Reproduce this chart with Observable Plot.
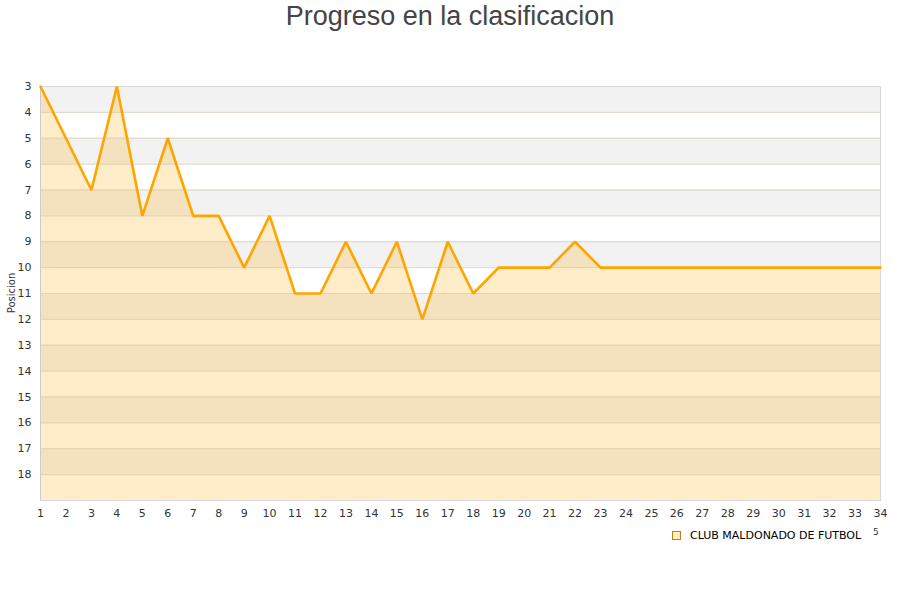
<!DOCTYPE html>
<html>
<head>
<meta charset="utf-8">
<script src="https://cdn.jsdelivr.net/npm/d3@7"></script>
<script src="https://cdn.jsdelivr.net/npm/@observablehq/plot@0.6"></script>
<style>
  html, body { margin: 0; padding: 0; background: #fff; width: 900px; height: 600px; overflow: hidden; }
  #title { position: absolute; left: 0; top: 0; width: 900px; text-align: center; font-family: "Liberation Sans", Arial, sans-serif; font-size: 27px; color: #444; line-height: 32px; }
  #chart { position: absolute; left: 0; top: 40px; }
  #ylabel { position: absolute; left: 11px; top: 293px; transform: translate(-50%, -50%) rotate(-90deg); font-family: "DejaVu Sans", Verdana, sans-serif; font-size: 10px; color: #333; white-space: nowrap; }
  #legend { position: absolute; left: 672px; top: 529px; font-family: "DejaVu Sans", Verdana, sans-serif; font-size: 11px; color: #000; display: flex; align-items: center; }
  #legend .sw { width: 7px; height: 7px; border: 1px solid #b8860b; background: #ffedcc; margin-right: 9px; }
  #extra { position: absolute; left: 873px; top: 527px; font-family: "DejaVu Sans", Verdana, sans-serif; font-size: 9px; color: #333; }
</style>
</head>
<body>
<div id="title">Progreso en la clasificacion</div>
<div id="chart"></div>
<div id="ylabel">Posicion</div>
<div id="legend"><div class="sw"></div><span>CLUB MALDONADO DE FUTBOL</span></div>
<div id="extra">5</div>
<script>
const rounds = d3.range(1, 35);
const positions = [3,5,7,3,8,5,8,8,10,8,11,11,9,11,9,12,9,11,10,10,10,9,10,10,10,10,10,10,10,10,10,10,10,10];
const yTicks = d3.range(3, 19);
const stripeStarts = [3,5,7,9,11,13,15,17];
const team = "CLUB MALDONADO DE FUTBOL";

const data = rounds.map((r, i) => ({round: r, pos: positions[i]}));
const stripes = stripeStarts.map(s => ({y1: s, y2: s + 1}));

const chart = Plot.plot({
  width: 900,
  height: 490,
  marginTop: 46,
  marginBottom: 30,
  marginLeft: 40,
  marginRight: 20,
  style: { fontFamily: "DejaVu Sans, Verdana, sans-serif", fontSize: "11px", color: "#333", background: "transparent" },
  x: { domain: [1, 34], ticks: rounds, tickFormat: d => String(d), tickSize: 0, tickPadding: 9, label: null },
  y: { domain: [3, 19], reverse: true, ticks: yTicks, tickSize: 0, tickPadding: 9, label: null },
  marks: [
    Plot.rect(stripes, { x1: 1, x2: 34, y1: "y1", y2: "y2", fill: "#f2f2f2" }),
    Plot.ruleY(d3.range(3, 20), { stroke: "#dedede", strokeWidth: 1 }),
    Plot.areaY(data, { x: "round", y1: 19, y2: "pos", fill: "#ffa500", fillOpacity: 0.21 }),
    Plot.ruleY(d3.range(4, 19), { stroke: "#e6d3b3", strokeWidth: 1, strokeOpacity: 0.5 }),
    Plot.frame({ stroke: "#d8d8d8" }),
    Plot.ruleX([1], { stroke: "#cccccc" }),
    Plot.lineY(data, { x: "round", y: "pos", stroke: "#ffa500", strokeWidth: 2.6, strokeLinejoin: "miter" })
  ]
});
document.getElementById("chart").appendChild(chart);
</script>
</body>
</html>
